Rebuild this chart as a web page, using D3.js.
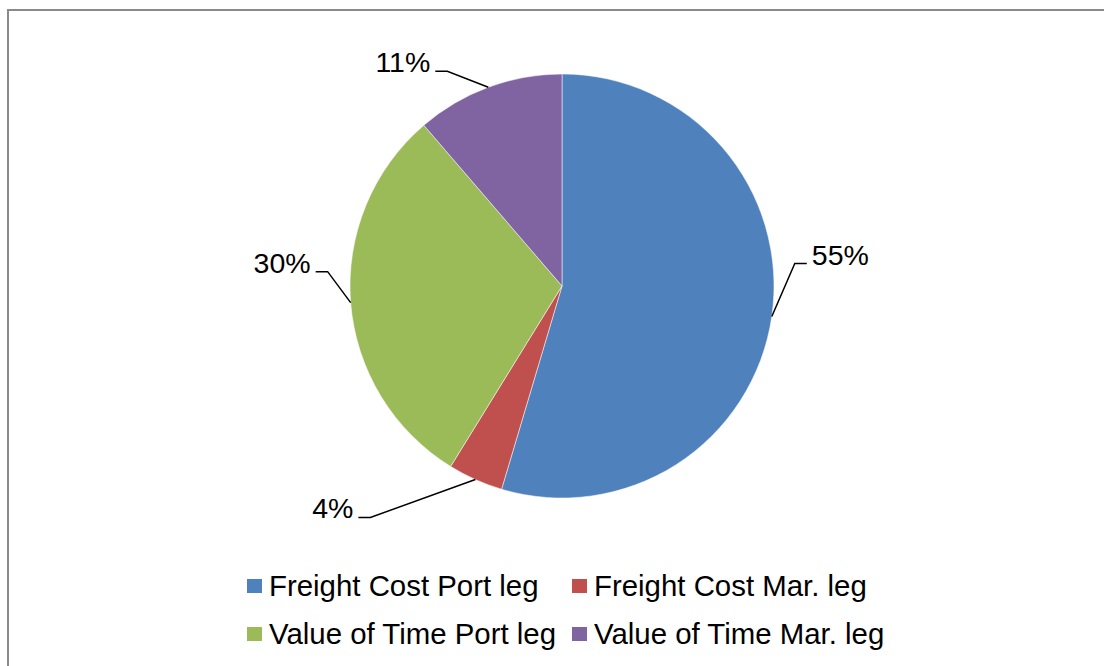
<!DOCTYPE html>
<html>
<head>
<meta charset="utf-8">
<script src="https://cdn.jsdelivr.net/npm/d3@7"></script>
<style>
  html, body { margin: 0; padding: 0; background: #fff; }
  svg { display: block; }
  text { font-family: "Liberation Sans", Arial, sans-serif; fill: #000; }
</style>
</head>
<body>
<svg id="chart" width="1104" height="666"></svg>
<script>
// ---- data ----
const categories = ["Freight Cost Port leg", "Freight Cost Mar. leg", "Value of Time Port leg", "Value of Time Mar. leg"];
const values = [54.6, 4.2, 29.9, 11.3];
const colors = ["#4F81BD", "#C0504D", "#9BBB59", "#8064A2"];

// ---- layout ----
const W = 1104, H = 666;
const cx = 562, cy = 286, R = 212;
// elbow offsets of leader lines from slice mid-arc point (layout, not data)
const elbowOffset = [[23, -53], [-105, 38], [-23, -31], [-41, -16]];
const elbowSide = [1, -1, -1, -1];

const svg = d3.select("#chart");

// frame
svg.append("rect")
  .attr("x", 8).attr("y", 10)
  .attr("width", W + 20).attr("height", H + 20)
  .attr("fill", "#fff").attr("stroke", "#8a8a8a").attr("stroke-width", 2);

const total = d3.sum(values);
const pct = d3.format(".0%");

const pie = d3.pie().sort(null).value(d => d)(values);
const arc = d3.arc().innerRadius(0).outerRadius(R);

const g = svg.append("g").attr("transform", `translate(${cx},${cy})`);
g.selectAll("path.slice")
  .data(pie)
  .join("path")
  .attr("class", "slice")
  .attr("d", arc)
  .attr("fill", (d, i) => colors[i])
  .attr("stroke", "#fff")
  .attr("stroke-width", 0.5);

// labels with leader lines
const labelG = g.append("g");
pie.forEach((d, i) => {
  const a = (d.startAngle + d.endAngle) / 2;
  const px = R * Math.sin(a), py = -R * Math.cos(a);
  const ex = px + elbowOffset[i][0], ey = py + elbowOffset[i][1];
  const side = elbowSide[i];
  const hx = ex + side * 12;
  labelG.append("polyline")
    .attr("points", [[px, py], [ex, ey], [hx, ey]].map(p => p.join(",")).join(" "))
    .attr("fill", "none").attr("stroke", "#000").attr("stroke-width", 1.5);
  labelG.append("text")
    .attr("x", hx + side * 5)
    .attr("y", ey + 1)
    .attr("text-anchor", side > 0 ? "start" : "end")
    .attr("font-size", 28.5)
    .text(pct(d.data / total));
});

// legend
const legendCols = [247, 572];
const legendRows = [596, 644];
const leg = svg.append("g");
categories.forEach((c, i) => {
  const col = i % 2, row = Math.floor(i / 2);
  const x = legendCols[col], y = legendRows[row];
  leg.append("rect")
    .attr("x", x).attr("y", y - 17)
    .attr("width", 15).attr("height", 14)
    .attr("fill", colors[i]);
  leg.append("text")
    .attr("x", x + 22).attr("y", y)
    .attr("font-size", 29.4)
    .text(c);
});
</script>
</body>
</html>
